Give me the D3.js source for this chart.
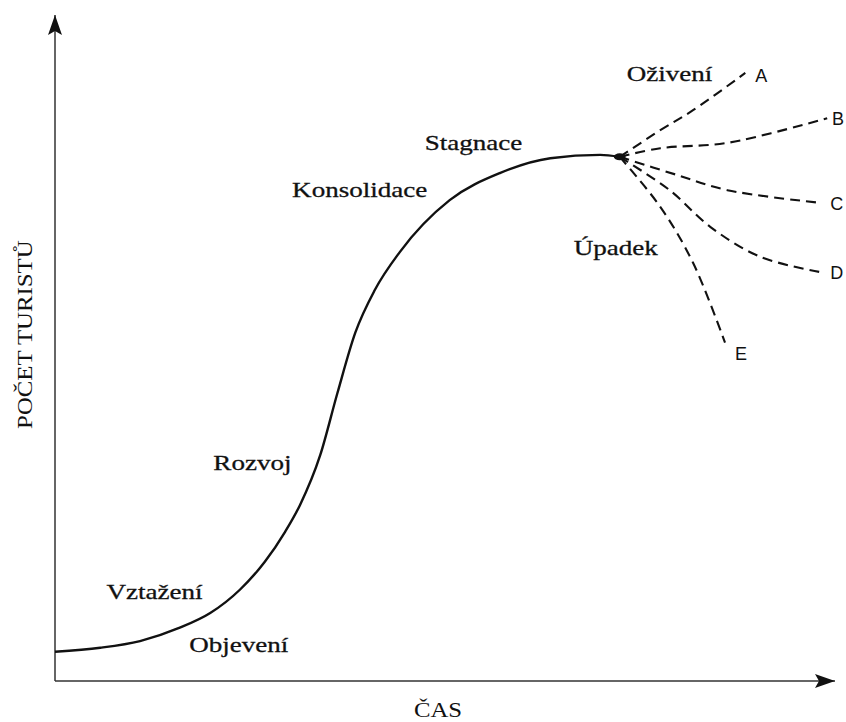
<!DOCTYPE html>
<html>
<head>
<meta charset="utf-8">
<script src="https://cdn.jsdelivr.net/npm/d3@7"></script>
<style>
  body { margin: 0; background: #fff; }
  text { font-family: "Liberation Serif", "Times New Roman", serif; fill: #111; }
  .letter { font-family: "Liberation Sans", Arial, sans-serif; }
</style>
</head>
<body>
<svg></svg>
<script>
let width = 846, height = 722;

let svg = d3.select("svg")
    .attr("width", width)
    .attr("height", height)
    .attr("viewBox", "0 0 " + width + " " + height);

// main life-cycle curve (time, number of tourists), 0..100 units
let lifeTime    = [0, 5.8, 10.9, 16.0, 19.9, 23.7, 26.9, 29.5, 31.4, 34.0, 36.2, 38.5, 41.0, 44.2, 50.6, 57.1, 63.5, 69.9, 72.4];
let lifeTourist = [4.4, 5.0, 6.0, 8.0, 10.2, 13.7, 17.9, 22.4, 26.4, 33.9, 43.2, 52.3, 58.7, 64.4, 72.2, 76.3, 78.5, 79.0, 78.7];

// branches after stagnation
let branchNames = ["A", "B", "C", "D", "E"];
let branchTime = [
  [72.4, 77.6, 81.8, 88.5],
  [72.4, 77.6, 86.2, 99.0],
  [72.4, 79.7, 86.2, 98.1],
  [72.4, 78.8, 84.0, 90.4, 98.1],
  [72.4, 77.6, 81.8, 85.9]
];
let branchTourist = [
  [78.7, 82.7, 85.7, 91.3],
  [78.7, 80.0, 80.8, 84.5],
  [78.7, 76.0, 73.7, 71.8],
  [78.7, 73.7, 68.2, 63.7, 61.4],
  [78.7, 71.2, 62.8, 50.8]
];

// stage labels and where they sit (time, tourists)
let stageNames   = ["Oživení", "Úpadek", "Stagnace", "Konsolidace", "Rozvoj", "Vztažení", "Objevení"];
let stageTime    = [73.3, 66.5, 47.4, 30.4, 20.3, 6.6, 17.2];
let stageTourist = [90.1, 63.9, 79.7, 72.7, 31.7, 12.3, 4.3];

let xTitle = "ČAS", yTitle = "POČET TURISTŮ";

let x = d3.scaleLinear().domain([0, 100]).range([55, 835]);
let y = d3.scaleLinear().domain([0, 100]).range([681, 15]);

// axes with arrow heads
let defs = svg.append("defs");
defs.append("marker")
    .attr("id", "arrow")
    .attr("viewBox", "0 0 20 14")
    .attr("refX", 20).attr("refY", 7)
    .attr("markerWidth", 20).attr("markerHeight", 14)
    .attr("markerUnits", "userSpaceOnUse")
    .attr("orient", "auto")
    .append("path")
    .attr("d", "M0,0 L20,7 L0,14 L4,7 Z")
    .attr("fill", "#111");

svg.append("line")
    .attr("x1", x(0)).attr("y1", y(0))
    .attr("x2", x(100)).attr("y2", y(0))
    .attr("stroke", "#333").attr("stroke-width", 1.5)
    .attr("marker-end", "url(#arrow)");

svg.append("line")
    .attr("x1", x(0)).attr("y1", y(0))
    .attr("x2", x(0)).attr("y2", y(100))
    .attr("stroke", "#333").attr("stroke-width", 1.5)
    .attr("marker-end", "url(#arrow)");

// main curve
let lifeData = lifeTime.map((t, i) => [t, lifeTourist[i]]);
let line = d3.line().x(d => x(d[0])).y(d => y(d[1])).curve(d3.curveMonotoneX);
let branchLine = d3.line().x(d => x(d[0])).y(d => y(d[1])).curve(d3.curveCatmullRom);

svg.append("path")
    .attr("d", line(lifeData))
    .attr("fill", "none")
    .attr("stroke", "#111")
    .attr("stroke-width", 2.4);

// dashed scenarios
branchNames.forEach((name, k) => {
  let pts = branchTime[k].map((t, i) => [t, branchTourist[k][i]]);
  svg.append("path")
      .attr("d", branchLine(pts))
      .attr("fill", "none")
      .attr("stroke", "#111")
      .attr("stroke-width", 2.1)
      .attr("stroke-dasharray", "10,6");
  let last = pts[pts.length - 1];
  svg.append("text")
      .attr("class", "letter")
      .attr("x", Math.min(x(last[0]) + 10, 832))
      .attr("y", y(last[1]) + (k == 0 ? 9 : k == 4 ? 17 : 7))
      .attr("font-size", 18)
      .text(name);
});

svg.append("ellipse")
    .attr("cx", x(72.4)).attr("cy", y(78.7))
    .attr("rx", 6).attr("ry", 3.5)
    .attr("fill", "#111");

// stage labels, horizontally stretched like the scan
stageNames.forEach((s, i) => {
  svg.append("g")
      .attr("transform", `translate(${x(stageTime[i])},${y(stageTourist[i])}) scale(1.23,1)`)
      .append("text")
      .attr("font-size", 22)
      .attr("stroke", "#111").attr("stroke-width", 0.3)
      .text(s);
});

// axis titles
svg.append("g")
    .attr("transform", `translate(438,${y(0) + 36}) scale(1.24,1)`)
    .append("text")
    .attr("text-anchor", "middle")
    .attr("font-size", 20)
    .text(xTitle);

svg.append("g")
    .attr("transform", `translate(32,${y(52)}) rotate(-90) scale(1.24,1)`)
    .append("text")
    .attr("text-anchor", "middle")
    .attr("font-size", 20)
    .text(yTitle);
</script>
</body>
</html>
